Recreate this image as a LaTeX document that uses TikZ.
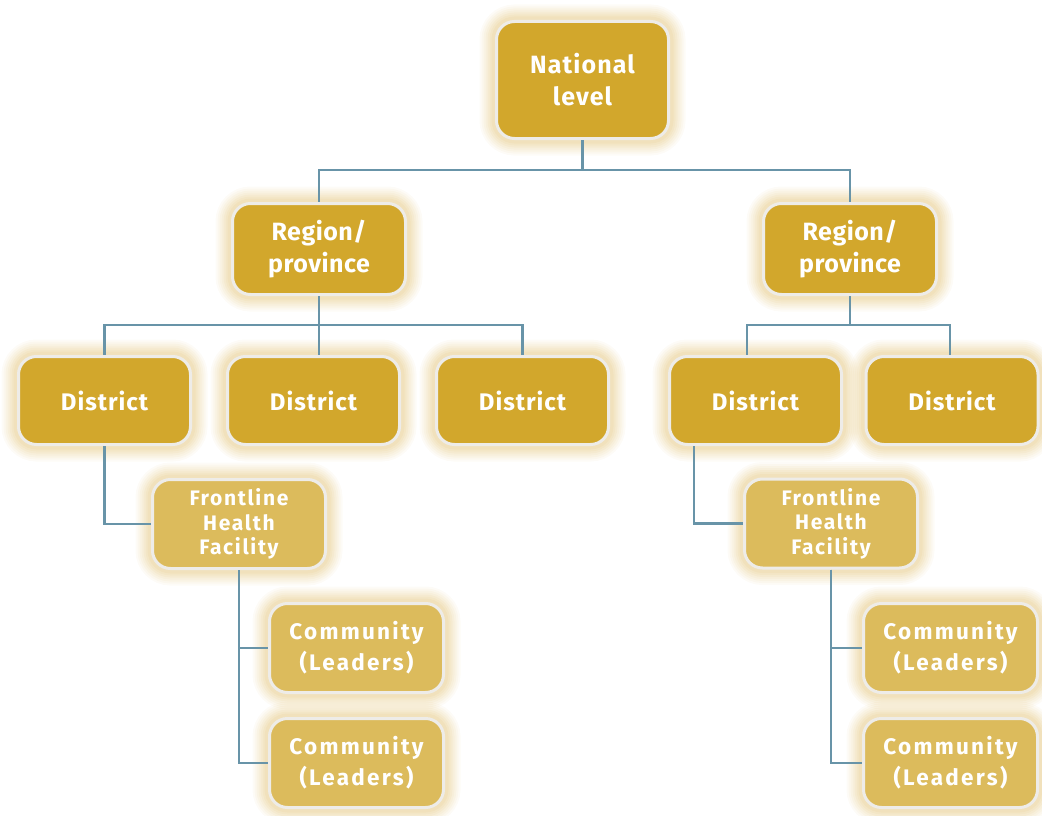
\documentclass[tikz,border=0pt]{standalone}
\usepackage{fontspec}
\setmainfont{Fira Sans}
\definecolor{darkbox}{RGB}{210,167,44}
\definecolor{lightbox}{RGB}{220,187,92}
\definecolor{rim}{RGB}{238,236,232}
\definecolor{glowc}{RGB}{230,202,135}
\definecolor{linec}{RGB}{104,148,168}
\tikzset{
  glow/.style={
    preaction={draw=glowc, line width=34pt, draw opacity=0.07},
    preaction={draw=glowc, line width=30pt, draw opacity=0.08},
    preaction={draw=glowc, line width=26pt, draw opacity=0.09},
    preaction={draw=glowc, line width=22pt, draw opacity=0.10},
    preaction={draw=glowc, line width=18pt, draw opacity=0.12},
    preaction={draw=glowc, line width=14pt, draw opacity=0.14},
    preaction={draw=glowc, line width=10pt, draw opacity=0.16}},
  boxbase/.style={glow, draw=rim, line width=3pt, rounded corners=18pt,
    text=white, align=center, inner sep=0pt},
  darknode/.style={boxbase, fill=darkbox},
  lightnode/.style={boxbase, fill=lightbox},
  natbox/.style={darknode, minimum width=172pt, minimum height=117pt,
    font=\fontsize{25}{32}\selectfont\bfseries\addfontfeatures{LetterSpace=4.5}},
  regbox/.style={darknode, minimum width=173pt, minimum height=91pt,
    font=\fontsize{25}{32}\selectfont\bfseries\addfontfeatures{LetterSpace=2}},
  distbox/.style={darknode, minimum width=172pt, minimum height=88pt,
    font=\fontsize{24}{30}\selectfont\bfseries\addfontfeatures{LetterSpace=4}},
  frbox/.style={lightnode, minimum width=173pt, minimum height=89pt,
    font=\fontsize{21}{24.5}\selectfont\bfseries\addfontfeatures{LetterSpace=8}},
  combox/.style={lightnode, minimum width=174pt, minimum height=89pt,
    font=\fontsize{22.5}{31}\selectfont\bfseries\addfontfeatures{LetterSpace=10}},
  conn/.style={draw=linec, line width=2.6pt}
}
\begin{document}
\begin{tikzpicture}[x=1pt,y=-1pt]
\useasboundingbox (0,0) rectangle (1042,816);
% nodes
\node[natbox] (nat) at (582.5,80) {National\\level};
\node[regbox] (reg1) at (319,249) {Region/\\province};
\node[regbox] (reg2) at (850,249) {Region/\\province};
\node[distbox] (d1) at (104.5,400.5) {District};
\node[distbox] (d2) at (313.5,400.5) {District};
\node[distbox] (d3) at (522.5,400.5) {District};
\node[distbox] (d4) at (755.5,400.5) {District};
\node[distbox] (d5) at (952,400.5) {District};
\node[frbox] (fr1) at (239,524) {Frontline\\Health\\Facility};
\node[frbox] (fr2) at (831,523.5) {Frontline\\Health\\Facility};
\node[combox] (c1) at (356.5,648) {Community\\(Leaders)};
\node[combox] (c2) at (356.5,763) {Community\\(Leaders)};
\node[combox] (c3) at (950.5,648) {Community\\(Leaders)};
\node[combox] (c4) at (950.5,763) {Community\\(Leaders)};
% connectors
\coordinate (b0) at (582.5,170);
\coordinate (b1) at (319,325);
\coordinate (b2) at (850,325);
\draw[conn] (nat.south) -- (b0) -| (reg1.north);
\draw[conn] (b0) -| (reg2.north);
\draw[conn] (reg1.south) -- (b1) -| (d1.north);
\draw[conn] (b1) -| (d3.north);
\draw[conn] (b1) -- (b1 |- d2.north);
\draw[conn] (reg2.south) -- (b2) -| ([xshift=-8.5pt]d4.north);
\draw[conn] (b2) -| ([xshift=-2pt]d5.north);
\draw[conn] (d1.south) |- (fr1.west);
\draw[conn] ([xshift=-61.5pt]d4.south) |- (fr2.west);
\draw[conn] (fr1.south) |- (c1.west);
\draw[conn] (fr1.south) |- (c2.west);
\draw[conn] (fr2.south) |- (c3.west);
\draw[conn] (fr2.south) |- (c4.west);
\end{tikzpicture}
\end{document}
